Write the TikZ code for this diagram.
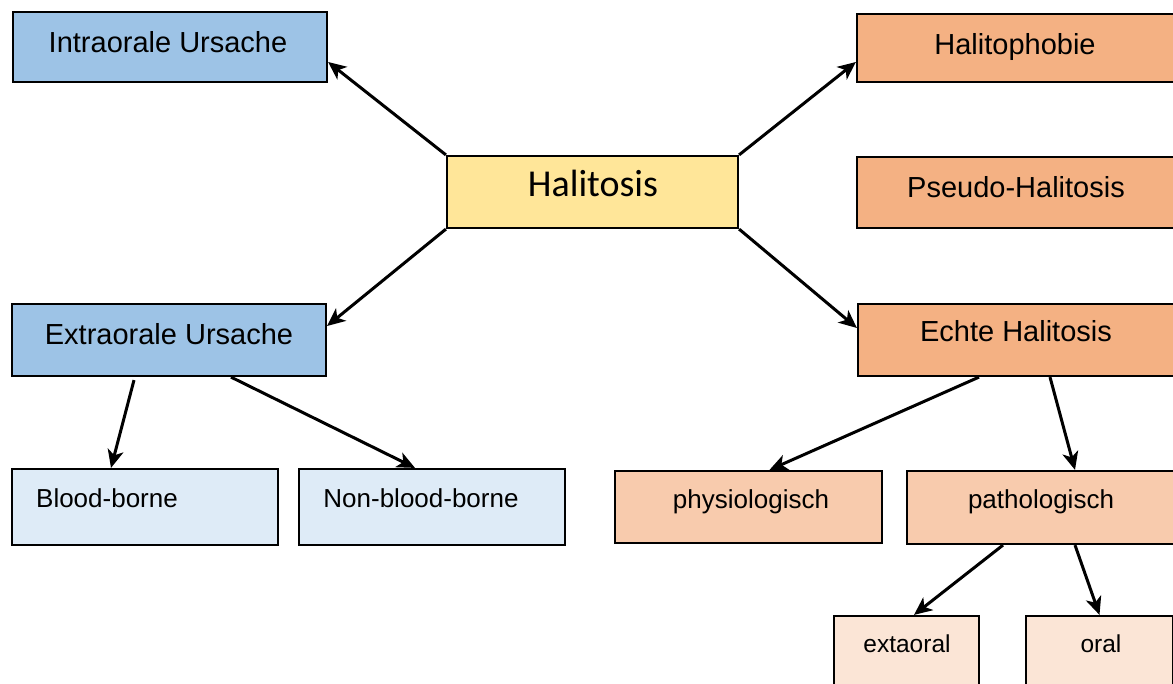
\documentclass[tikz,border=0pt]{standalone}
\usepackage{fontspec}
\setmainfont{Liberation Sans}
\newfontfamily\calib{Carlito}
\usetikzlibrary{arrows.meta}
\definecolor{blueA}{HTML}{9DC3E6}
\definecolor{blueB}{HTML}{DEEBF7}
\definecolor{yel}{HTML}{FFE699}
\definecolor{orA}{HTML}{F4B183}
\definecolor{orB}{HTML}{F8CBAD}
\definecolor{orC}{HTML}{FBE5D6}
\tikzset{
  box/.style={draw=black, line width=2.2pt, rectangle, inner sep=0pt},
  big/.style={anchor=base, inner sep=0pt, font=\fontsize{29}{32}\selectfont},
  small/.style={anchor=base, inner sep=0pt, font=\fontsize{26}{30}\selectfont},
  tiny/.style={anchor=base, inner sep=0pt, font=\fontsize{24.5}{28}\selectfont},
  arr/.style={line width=3pt, -{Stealth[length=18pt,width=16pt,inset=5pt]}}
}
\begin{document}
\begin{tikzpicture}[x=1pt,y=-1pt]
\useasboundingbox (0,0) rectangle (1173,684);
\clip (0,0) rectangle (1173,684);
% boxes
\node[box, fill=blueA, minimum width=314pt, minimum height=70pt] (intra) at (170,47) {};
\node[box, fill=yel, minimum width=291pt, minimum height=72pt] (hal) at (592.5,192) {};
\node[box, fill=orA, minimum width=340pt, minimum height=68pt] (phob) at (1027,48) {};
\node[box, fill=orA, minimum width=340pt, minimum height=71pt] (pseudo) at (1027,192.5) {};
\node[box, fill=blueA, minimum width=314pt, minimum height=72pt] (extra) at (169,340) {};
\node[box, fill=orA, minimum width=340pt, minimum height=72pt] (echte) at (1028,340) {};
\node[box, fill=blueB, minimum width=266pt, minimum height=76pt] (blood) at (145,507) {};
\node[box, fill=blueB, minimum width=266pt, minimum height=76pt] (nonblood) at (432,507) {};
\node[box, fill=orB, minimum width=267pt, minimum height=72pt] (physio) at (748.5,507) {};
\node[box, fill=orB, minimum width=290pt, minimum height=73pt] (patho) at (1052,507.5) {};
\node[box, fill=orC, minimum width=145pt, minimum height=110pt] (ext) at (906.5,671) {};
\node[box, fill=orC, minimum width=147pt, minimum height=110pt] (oral) at (1099.5,671) {};
% texts
\node[big] (intraT) at (168,53) {Intraorale Ursache};
\node[anchor=base, inner sep=0pt, font=\calib\fontsize{38}{40}\selectfont] (halT) at (593,197) {Halitosis};
\node[big] (phobT) at (1015,55) {Halitophobie};
\node[big] (pseudoT) at (1016,198) {Pseudo-Halitosis};
\node[big] (extraT) at (169,345) {Extraorale Ursache};
\node[big] (echteT) at (1016,342) {Echte Halitosis};
\node[small] (bloodT) at (107,507) {Blood-borne};
\node[small] (nonbloodT) at (421,507) {Non-blood-borne};
\node[small] (physioT) at (751,508) {physiologisch};
\node[small] (pathoT) at (1041,508) {pathologisch};
\node[tiny] (extT) at (907,652) {extaoral};
\node[tiny] (oralT) at (1101,652) {oral};
% arrows
\draw[arr] (hal.north west) -- ([yshift=-15pt]intra.east);
\draw[arr] (hal.north east) -- ([yshift=-14pt]phob.west);
\draw[arr] (hal.south west) -- ([yshift=14pt]extra.east);
\draw[arr] (hal.south east) -- ([yshift=12pt]echte.west);
\draw[arr] ([xshift=-35pt,yshift=-3pt]extra.south) -- ([xshift=-34pt]blood.north);
\draw[arr] ([xshift=62pt]extra.south) -- ([xshift=-17pt]nonblood.north);
\draw[arr] ([xshift=-49pt]echte.south) -- ([xshift=21pt]physio.north);
\draw[arr] ([xshift=22pt]echte.south) -- ([xshift=23pt]patho.north);
\draw[arr] ([xshift=-49pt]patho.south) -- ([xshift=7.5pt]ext.north);
\draw[arr] ([xshift=23pt]patho.south) -- (oral.north);
\end{tikzpicture}
\end{document}
